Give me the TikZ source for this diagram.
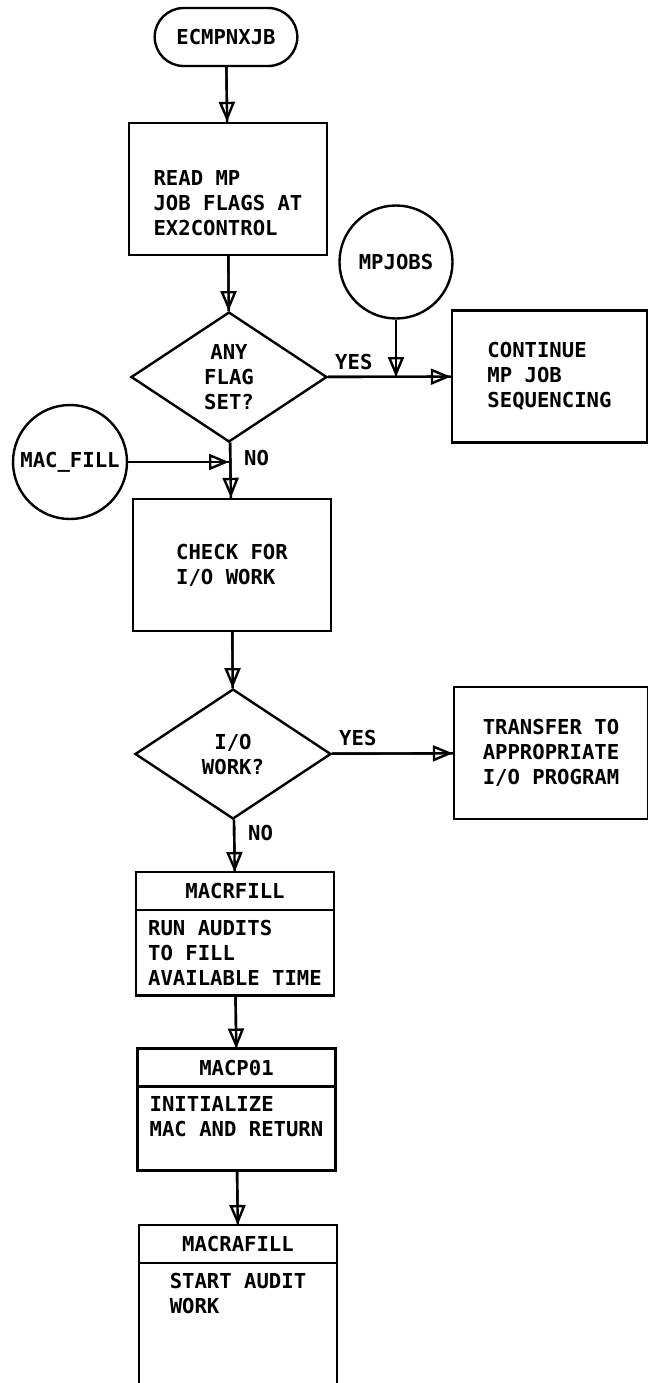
\documentclass[tikz,border=0pt]{standalone}
\usepackage{fontspec}
\setmonofont{DejaVu Sans Mono}
\usetikzlibrary{arrows.meta,positioning,shapes.geometric,shapes.misc}
\tikzset{
  >={Triangle[open,length=10pt,width=8pt]},
  chart/.style={font=\ttfamily\bfseries\fontsize{10.3}{12.5}\selectfont,line width=1.2pt},
  proc/.style={draw,minimum width=99pt,minimum height=66pt,align=left},
  decide/.style={draw,diamond,aspect=1.5,inner sep=0pt,minimum width=98pt,
    minimum height=65pt,align=center},
  term/.style={draw,rounded rectangle,minimum width=78pt,minimum height=29pt},
  conn/.style={draw,circle,inner sep=1pt,minimum size=#1},
  conn/.default=57pt,
  head/.style={draw,outer sep=0pt,minimum width=99pt,minimum height=19pt},
  body/.style={draw,outer sep=0pt,minimum width=99pt,anchor=north,align=left,inner ysep=5pt},
  flow/.style={->,postaction={draw,-}},
  tag/.style={anchor=west,inner sep=0pt},
}
\begin{document}
\begin{tikzpicture}[chart,x=0.5pt,y=-0.5pt]
  \useasboundingbox (0,0) rectangle (648,1383);
  \clip (0,0) rectangle (648,1383);
  % main column
  \node[term] (start) at (226,37) {ECMPNXJB};
  \node[proc,text height=46.5pt] (read) at (228,189) {READ MP\\JOB FLAGS AT\\EX2CONTROL};
  \node[decide] (flags) at (229,377) {ANY\\FLAG\\SET?};
  \node[proc] (check) at (232,565) {CHECK FOR\\I/O WORK};
  \node[decide] (iowork) at (233,754) {I/O\\WORK?};
  \node[head] (rfill) at (235,891) {MACRFILL};
  \node[body,minimum height=42pt] (rfillbody) at (rfill.south) {RUN AUDITS\\TO FILL\\AVAILABLE TIME};
  \node[head] (p01) at (236.5,1067.5) {MACP01};
  \node[body,text depth=12pt] (p01body) at (p01.south) {INITIALIZE\\MAC AND RETURN};
  \node[head] (rafill) at (238,1244) {MACRAFILL};
  \node[body,text depth=100pt] (rafillbody) at (rafill.south) {START AUDIT\\WORK};
  % side nodes
  \node[conn=56.5pt] (mpjobs) at (396,262) {MPJOBS};
  \node[proc,minimum width=97.5pt] (cont) at (549.5,376.5) {CONTINUE\\MP JOB\\SEQUENCING};
  \node[conn] (macfill) at (70,462) {MAC\_FILL};
  \node[proc,minimum width=97pt] (xfer) at (551,753) {TRANSFER TO\\APPROPRIATE\\I/O PROGRAM};
  \coordinate (mpjoin) at (mpjobs |- flags.east);
  \coordinate (macjoin) at (flags.south |- macfill.east);
  % labels
  \node[tag] (yes1) at (334,362) {YES};
  \node[tag] (no1) at (243,458) {NO};
  \node[tag] (yes2) at (338,738) {YES};
  \node[tag] (no2) at (247,833) {NO};
  % connectors
  \draw[flow] (start) -- (read);
  \draw[flow] (read) -- (flags);
  \draw[flow] (flags) -- (cont);
  \draw[flow] (mpjobs) -- (mpjoin);
  \draw[flow] (flags) -- (check);
  \draw[flow] (macfill) -- (macjoin);
  \draw[flow] (check) -- (iowork);
  \draw[flow] (iowork) -- (xfer);
  \draw[flow] (iowork) -- (rfill);
  \draw[flow] (rfillbody) -- (p01);
  \draw[flow] (p01body) -- (rafill);
\end{tikzpicture}
\end{document}
